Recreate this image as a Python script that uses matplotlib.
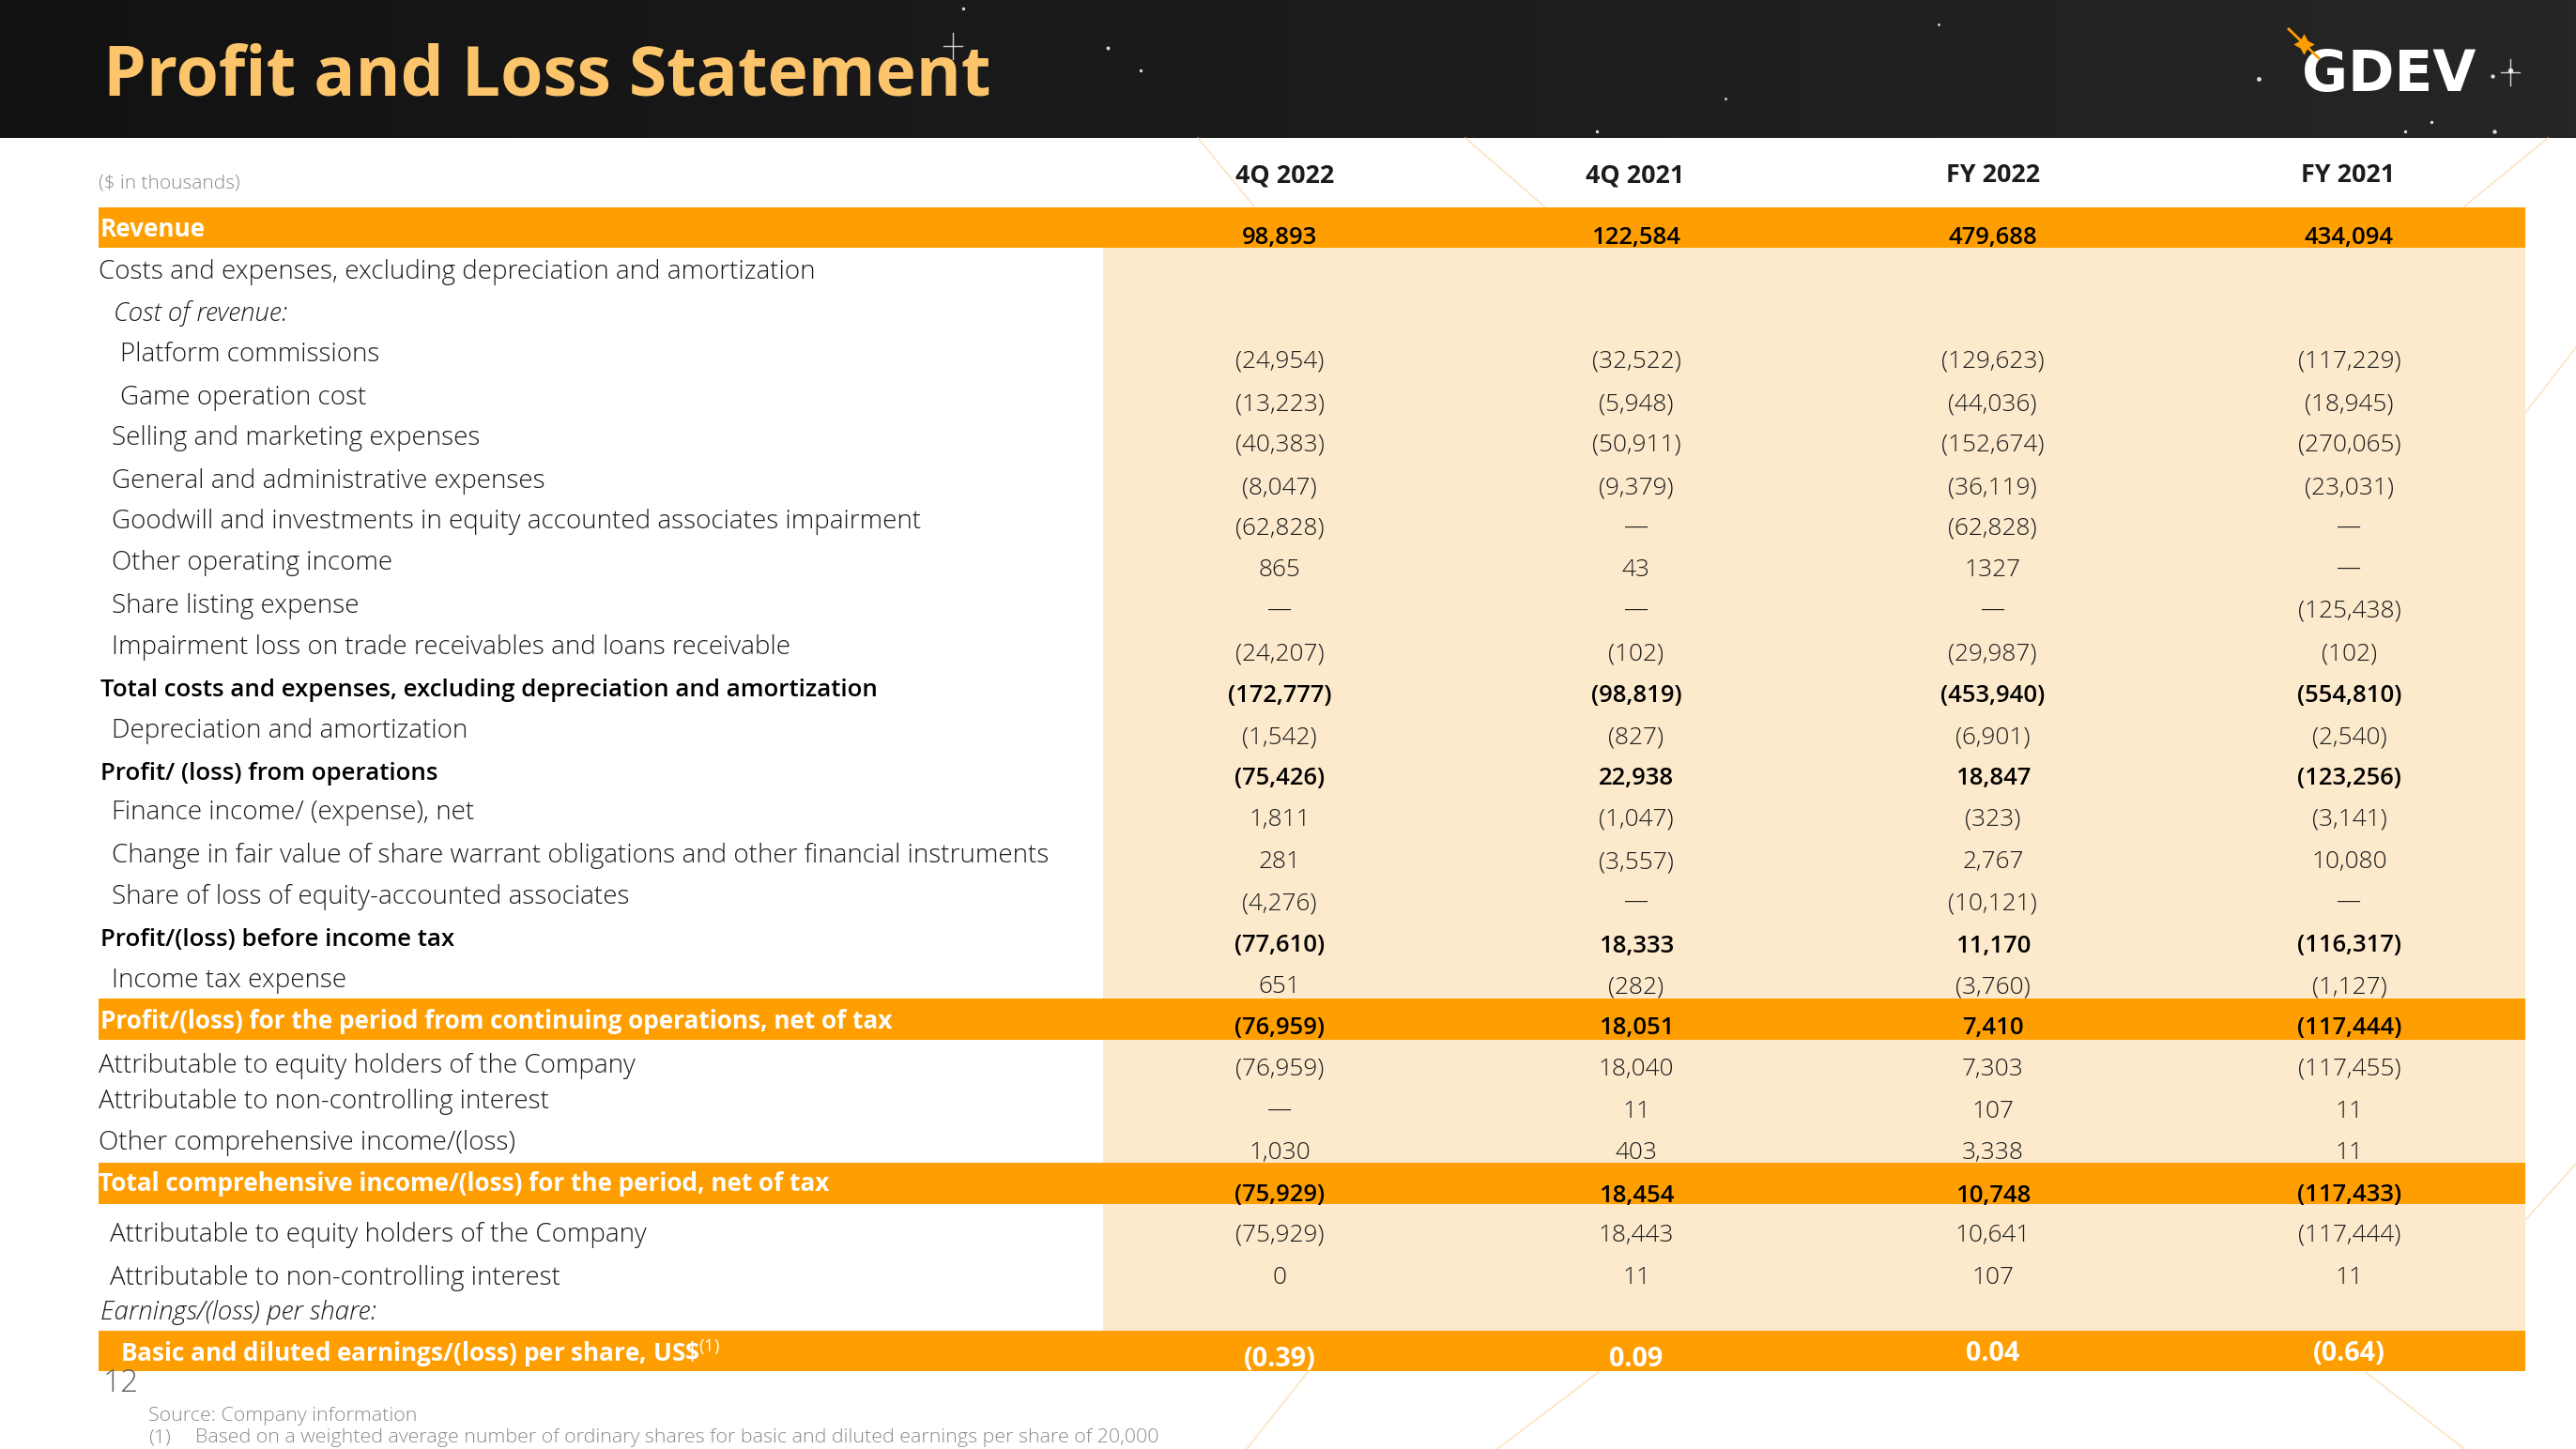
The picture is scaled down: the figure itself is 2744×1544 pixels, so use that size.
import matplotlib
matplotlib.use("Agg")
import matplotlib.pyplot as plt
import numpy as np
from matplotlib.colors import LinearSegmentedColormap

# ---------------- data ----------------
columns = ["4Q 2022", "4Q 2021", "FY 2022", "FY 2021"]
row_labels = [
    "Revenue",
    "Costs and expenses, excluding depreciation and amortization",
    "Cost of revenue:",
    "Platform commissions",
    "Game operation cost",
    "Selling and marketing expenses",
    "General and administrative expenses",
    "Goodwill and investments in equity accounted associates impairment",
    "Other operating income",
    "Share listing expense",
    "Impairment loss on trade receivables and loans receivable",
    "Total costs and expenses, excluding depreciation and amortization",
    "Depreciation and amortization",
    "Profit/ (loss) from operations",
    "Finance income/ (expense), net",
    "Change in fair value of share warrant obligations and other financial instruments",
    "Share of loss of equity-accounted associates",
    "Profit/(loss) before income tax",
    "Income tax expense",
    "Profit/(loss) for the period from continuing operations, net of tax",
    "Attributable to equity holders of the Company",
    "Attributable to non-controlling interest",
    "Other comprehensive income/(loss)",
    "Total comprehensive income/(loss) for the period, net of tax",
    "Attributable to equity holders of the Company",
    "Attributable to non-controlling interest",
    "Earnings/(loss) per share:",
    "Basic and diluted earnings/(loss) per share, US\\$$^{(1)}$",
]
row_kind = ["band", "normal", "italic", "normal", "normal", "normal", "normal", "normal",
            "normal", "normal", "normal", "bold", "normal", "bold", "normal", "normal",
            "normal", "bold", "normal", "band", "normal", "normal", "normal", "band",
            "normal", "normal", "italic", "eps"]

q4_2022 = ["98,893", "", "", "(24,954)", "(13,223)", "(40,383)", "(8,047)", "(62,828)", "865", "—",
           "(24,207)", "(172,777)", "(1,542)", "(75,426)", "1,811", "281", "(4,276)", "(77,610)",
           "651", "(76,959)", "(76,959)", "—", "1,030", "(75,929)", "(75,929)", "0", "", "(0.39)"]
q4_2021 = ["122,584", "", "", "(32,522)", "(5,948)", "(50,911)", "(9,379)", "—", "43", "—",
           "(102)", "(98,819)", "(827)", "22,938", "(1,047)", "(3,557)", "—", "18,333",
           "(282)", "18,051", "18,040", "11", "403", "18,454", "18,443", "11", "", "0.09"]
fy_2022 = ["479,688", "", "", "(129,623)", "(44,036)", "(152,674)", "(36,119)", "(62,828)", "1327", "—",
           "(29,987)", "(453,940)", "(6,901)", "18,847", "(323)", "2,767", "(10,121)", "11,170",
           "(3,760)", "7,410", "7,303", "107", "3,338", "10,748", "10,641", "107", "", "0.04"]
fy_2021 = ["434,094", "", "", "(117,229)", "(18,945)", "(270,065)", "(23,031)", "—", "—", "(125,438)",
           "(102)", "(554,810)", "(2,540)", "(123,256)", "(3,141)", "10,080", "—", "(116,317)",
           "(1,127)", "(117,444)", "(117,455)", "11", "11", "(117,433)", "(117,444)", "11", "", "(0.64)"]
value_cols = [q4_2022, q4_2021, fy_2022, fy_2021]

title = "Profit and Loss Statement"
unit_note = "($ in thousands)"
page_no = "12"
source_note = "Source: Company information"
footnote_mark = "(1)"
footnote_text = "Based on a weighted average number of ordinary shares for basic and diluted earnings per share of 20,000"

# ---------------- layout (pixel coordinates) ----------------
S = 1.75  # reference preview -> full size
DY = 3.5
label_y = [138, 164, 189, 214, 240, 265, 291, 316, 341, 367, 392, 418, 443, 469, 493, 519,
           544, 570, 595, 620, 647, 669, 694, 719, 750, 776, 797, 822]
value_y = [143, 0, 0, 218, 244, 269, 295, 320, 345, 370, 396, 422, 447, 472, 497, 523,
           548, 574, 599, 624, 649, 675, 700, 726, 750, 776, 0, 825]
eps_col_dy = [1, 1, -3, -3]
label_x = [61, 60, 69, 73, 73, 68, 68, 68, 68, 68, 68, 61, 68, 61, 68, 68,
           68, 61, 68, 61, 60, 60, 60, 60, 67, 67, 61, 73]
col_x = [779, 996, 1213, 1430]
hdr_x = [782, 995, 1213, 1429]
bands = [(126, 151), (608, 633), (708, 733), (810, 835)]

W, H = 2744, 1544
ORANGE = "#FF9E00"
LIGHT = "#FDE9CC"
TITLE_C = "#FDC56B"
TXT = "#1c1c1c"
GRAY = "#8a8a8a"
FAM = ["Open Sans", "DejaVu Sans"]

plt.rcParams["font.family"] = FAM
plt.rcParams["mathtext.fontset"] = "custom"
plt.rcParams["mathtext.rm"] = "Open Sans"
plt.rcParams["mathtext.bf"] = "Open Sans:bold"

fig = plt.figure(figsize=(W / 100, H / 100), dpi=100)
ax = fig.add_axes([0, 0, 1, 1])
ax.set_xlim(0, W)
ax.set_ylim(H, 0)
ax.axis("off")
fig.canvas.draw()
renderer = fig.canvas.get_renderer()


def fit(text, target_w, **kw):
    t = ax.text(0, 0, text, fontsize=20, **kw)
    w = t.get_window_extent(renderer).width
    t.remove()
    return 20 * target_w / w


# header background
grad = np.linspace(0, 1, 256)[None, :]
cm = LinearSegmentedColormap.from_list("hdr", ["#121212", "#1c1c1c", "#262626"])
ax.imshow(grad, extent=[0, W, 147, 0], cmap=cm, aspect="auto", zorder=0)

# stars
stars = [(586, 5, 3), (674, 29, 4), (694, 43, 3), (972, 80, 3), (1375, 48, 6), (1464, 80, 3),
         (1517, 46, 5), (1528, 43, 8), (1480, 74, 3), (1518, 80, 5), (1050, 60, 2), (1180, 15, 2)]
for sx, sy, ss in stars:
    ax.scatter(sx * S, sy * S, s=ss * 2, c="white", marker="o", lw=0, zorder=1, alpha=0.85)
for sx, sy in [(580, 28), (1528, 44)]:
    ax.plot([sx * S - 10, sx * S + 10], [sy * S, sy * S], color="white", lw=1, alpha=0.8, zorder=1)
    ax.plot([sx * S, sx * S], [sy * S - 14, sy * S + 14], color="white", lw=1, alpha=0.8, zorder=1)

# faint decorative lines
deco = [((1276, 147), (1336, 220)), ((1561, 147), (1645, 220)), ((2714, 147), (2625, 220)),
        ((1393, 1462), (1328, 1544)), ((1703, 1462), (1595, 1544)), ((2520, 1462), (2625, 1544)),
        ((2744, 370), (2690, 440)), ((2744, 1240), (2690, 1300))]
for (x0, y0), (x1, y1) in deco:
    ax.plot([x0, x1], [y0, y1], color="#FBD9A8", lw=1.2, alpha=0.7, zorder=1)

# title
fs_title = fit(title, 1056 - 110, fontweight="bold")
ax.text(110, 83, title, fontsize=fs_title, fontweight="bold", color=TITLE_C,
        va="center", ha="left", zorder=3)

# logo
fs_logo = fit("GDEV", 2628 - 2452, fontweight="heavy", family=["DejaVu Sans"])
ax.text(2452, 80, "GDEV", fontsize=fs_logo * 1.05, fontweight="heavy", family=["DejaVu Sans"],
        color="white", va="center", ha="left", zorder=3)
ax.plot([2438, 2470], [31, 62], color=ORANGE, lw=2, zorder=4)
ax.scatter([2454], [47], s=260, marker=(4, 1, 0), c=ORANGE, lw=0, zorder=4)

# light panel and bands
ax.add_patch(plt.Rectangle((1175, 264), 2690 - 1175, 1418 - 264, color=LIGHT, lw=0, zorder=1))
for y0, y1 in bands:
    ax.add_patch(plt.Rectangle((105, y0 * S), 2690 - 105, (y1 - y0) * S, color=ORANGE, lw=0, zorder=2))

# font sizes
fs_lab = fit(row_labels[15], 998, fontweight="light")
fs_bold = fit(row_labels[11], 826, fontweight="semibold")
fs_band = fit(row_labels[19], 843, fontweight="bold")
fs_num = fit("(24,954)", 94.5, fontweight="light")
fs_numb = fit("98,893", 80, fontweight="semibold")
fs_eps = fit("(0.39)", 77, fontweight="bold")
fs_hdr = fit("4Q 2022", 105, fontweight="bold")

# column headers
for cx, c in zip(hdr_x, columns):
    ax.text(cx * S, 184 + DY, c, fontsize=fs_hdr, fontweight="bold", color=TXT, ha="center", va="center", zorder=3)
ax.text(105, 192 + DY, unit_note, fontsize=fs_lab * 0.75, fontweight="light", color=GRAY, ha="left", va="center", zorder=3)

# rows
for i, lab in enumerate(row_labels):
    kind = row_kind[i]
    if kind in ("band", "eps"):
        kw = dict(fontsize=fs_band, fontweight="bold", color="white")
    elif kind == "bold":
        kw = dict(fontsize=fs_bold, fontweight="semibold", color="black")
    elif kind == "italic":
        kw = dict(fontsize=fs_lab, fontweight="light", style="italic", color=TXT)
    else:
        kw = dict(fontsize=fs_lab, fontweight="light", color=TXT)
    ax.text(label_x[i] * S, label_y[i] * S + DY, lab, ha="left", va="center", zorder=3, **kw)

    for j, (cx, col) in enumerate(zip(col_x, value_cols)):
        v = col[i]
        if not v:
            continue
        yy = value_y[i]
        if kind == "eps":
            vkw = dict(fontsize=fs_eps, fontweight="bold", color="white")
            yy = yy + eps_col_dy[j]
        elif kind in ("band", "bold"):
            vkw = dict(fontsize=fs_numb, fontweight="semibold", color="black")
        else:
            vkw = dict(fontsize=fs_num, fontweight="light", color=TXT)
        ax.text(cx * S, yy * S + DY, v, ha="center", va="center", zorder=3, **vkw)

# footer
fs_foot = fs_lab * 0.772
ax.text(110, 1474, page_no, fontsize=fs_lab * 1.2, fontweight="light", color="#666666", ha="left", va="center", zorder=3)
ax.text(158, 1509, source_note, fontsize=fs_foot, fontweight="light", color=GRAY, ha="left", va="center", zorder=3)
ax.text(158, 1532, footnote_mark, fontsize=fs_foot, fontweight="light", color=GRAY, ha="left", va="center", zorder=3)
ax.text(208, 1532, footnote_text, fontsize=fs_foot, fontweight="light", color=GRAY, ha="left", va="center", zorder=3)

fig.savefig("out.png", dpi=100, facecolor="white")
